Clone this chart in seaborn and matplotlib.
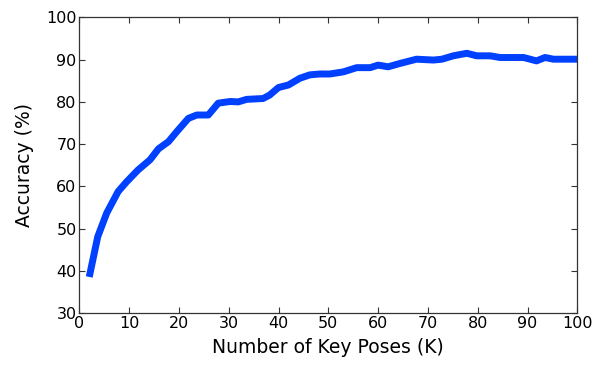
import matplotlib
matplotlib.use("Agg")
import matplotlib.pyplot as plt
import seaborn as sns
import pandas as pd

key_poses = [2, 3.7, 5.5, 7.8, 9.5, 11.8, 14.2, 15.9, 17.9, 19.6, 21.9, 23.6, 25.9, 27.9,
             30.3, 31.9, 33.6, 36.9, 38.2, 40.0, 42.0, 44.3, 46.3, 48.3, 50.3, 53.0, 55.7,
             58.4, 60.0, 62.0, 64.4, 67.7, 71.1, 72.8, 75.1, 77.8, 79.8, 82.5, 84.5, 89.2,
             91.8, 93.5, 95.2, 100]
accuracy = [38.6, 48.1, 53.7, 58.8, 61.1, 63.9, 66.3, 68.9, 70.6, 73.0, 76.1, 76.9, 76.9, 79.7,
            80.1, 80.0, 80.6, 80.8, 81.6, 83.4, 84.0, 85.6, 86.4, 86.6, 86.6, 87.1, 88.1,
            88.1, 88.7, 88.3, 89.1, 90.1, 89.9, 90.1, 90.9, 91.5, 90.9, 90.9, 90.5, 90.5,
            89.7, 90.5, 90.1, 90.1]
x_ticks = [0, 10, 20, 30, 40, 50, 60, 70, 80, 90, 100]
y_ticks = [30, 40, 50, 60, 70, 80, 90, 100]

sns.set_style("ticks")
plt.rcParams['font.family'] = ['DejaVu Sans']

df = pd.DataFrame({"K": key_poses, "Accuracy": accuracy})

fig = plt.figure(figsize=(6.03, 3.69), dpi=100)
ax = fig.add_axes([0.1315, 0.151, 0.826, 0.802])
sns.lineplot(data=df, x="K", y="Accuracy", ax=ax, color="#0040FF", linewidth=5,
             solid_joinstyle="round", solid_capstyle="butt")
ax.set_xlim(0, 100)
ax.set_ylim(30, 100)
ax.set_xticks(x_ticks)
ax.set_yticks(y_ticks)
ax.tick_params(direction="in", top=True, right=True, labelsize=11.5, length=4, width=0.8,
               colors="#333333", labelcolor="black", pad=2)
for s in ax.spines.values():
    s.set_visible(True)
    s.set_linewidth(0.9)
    s.set_color("#333333")
ax.set_xlabel("Number of Key Poses (K)", fontsize=13.5, labelpad=5, color="black")
ax.set_ylabel("Accuracy (%)", fontsize=13.5, labelpad=9, color="black")
fig.savefig("out.png", dpi=100)
